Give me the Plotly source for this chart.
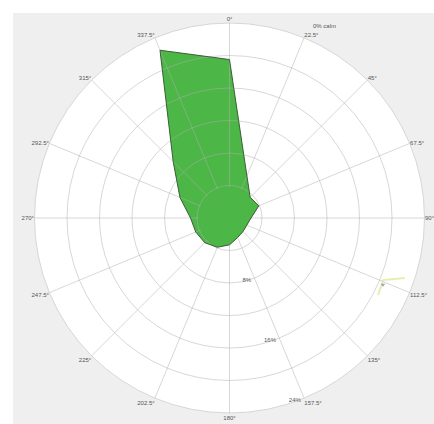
import plotly.graph_objects as go

# wind directions (deg) and frequency (%)
directions = [0, 22.5, 45, 67.5, 90, 112.5, 135, 157.5, 180,
              202.5, 225, 247.5, 270, 292.5, 315, 337.5]
frequency = [19.5, 5.6, 3.6, 3.9, 2.65, 2.3, 2.35, 2.6, 3.3,
             3.9, 4.3, 4.5, 4.8, 6.6, 9.8, 22.35]

dir_labels = ["0°", "22.5°", "45°", "67.5°", "90°", "112.5°", "135°", "157.5°",
              "180°", "202.5°", "225°", "247.5°", "270°", "292.5°", "315°", "337.5°"]

ring_vals = [4, 8, 12, 16, 20, 24]
ring_text = ["", "8%", "", "16%", "", "24%"]

# small artefact near 112.5°
art_r = [22.8, 20.4, 20.6]
art_theta = [108.9, 112.0, 117.4]
art_dot_r = [20.6]
art_dot_theta = [113.5]

calm_text = "0% calm"

GREEN = "rgb(76,182,70)"
closed_r = frequency + frequency[:1]
closed_t = directions + directions[:1]
inner_r = [min(v, 3.85) for v in closed_r]   # central part hides the spokes

fig = go.Figure()
fig.add_trace(go.Scatterpolar(
    r=closed_r, theta=closed_t, mode="lines", fill="toself",
    fillcolor=GREEN, line=dict(width=0, color=GREEN),
    hoverinfo="skip", showlegend=False, subplot="polar",
))
fig.add_trace(go.Scatterpolar(
    r=inner_r, theta=closed_t, mode="lines", fill="toself",
    fillcolor=GREEN, line=dict(width=0, color=GREEN),
    hoverinfo="skip", showlegend=False, subplot="polar2",
))
fig.add_trace(go.Scatterpolar(
    r=closed_r, theta=closed_t, mode="lines",
    line=dict(color="#3b5e36", width=1),
    hoverinfo="skip", showlegend=False, subplot="polar2",
))
fig.add_trace(go.Scatterpolar(
    r=art_r, theta=art_theta, mode="lines",
    line=dict(color="rgba(205,230,120,0.6)", width=2),
    hoverinfo="skip", showlegend=False, subplot="polar2",
))
fig.add_trace(go.Scatterpolar(
    r=art_dot_r, theta=art_dot_theta, mode="markers",
    marker=dict(color="rgba(120,128,170,0.7)", size=4, symbol="triangle-down"),
    hoverinfo="skip", showlegend=False, subplot="polar2",
))

W, H = 434, 424
cx, cy, R = 229.5, 218.0, 195.0
grid = "rgba(175,175,175,0.5)"
dom = dict(x=[(cx - R) / W, (cx + R) / W],
           y=[1 - (cy + R) / H, 1 - (cy - R) / H])

fig.update_layout(
    width=W, height=H,
    margin=dict(l=0, r=0, t=0, b=0),
    paper_bgcolor="white",
    font=dict(family="Liberation Sans, Arial, sans-serif", size=6, color="#555"),
    polar=dict(
        domain=dom,
        bgcolor="white",
        angularaxis=dict(
            rotation=90, direction="clockwise",
            tickmode="array", tickvals=directions, ticktext=["" for _ in dir_labels],
            showline=True, linecolor="#d6d6d6", linewidth=1,
            showgrid=False, ticks="",
        ),
        radialaxis=dict(
            range=[0, 24], showgrid=False, showline=False, ticks="",
            showticklabels=False,
        ),
    ),
    polar2=dict(
        domain=dom,
        bgcolor="rgba(0,0,0,0)",
        angularaxis=dict(
            rotation=90, direction="clockwise",
            tickmode="array", tickvals=directions, ticktext=dir_labels,
            showline=False,
            gridcolor=grid, gridwidth=1,
            ticks="",
            tickfont=dict(size=6, color="#555"),
        ),
        radialaxis=dict(
            range=[0, 24], tickmode="array", tickvals=ring_vals, ticktext=ring_text,
            angle=-67.5, side="clockwise", tickangle=-67.5,
            showline=False, ticks="",
            gridcolor=grid, gridwidth=1,
            tickfont=dict(size=6, color="#555"),
        ),
    ),
    shapes=[dict(type="rect", xref="paper", yref="paper",
                 x0=13 / W, x1=1, y0=0, y1=1 - 13 / H,
                 fillcolor="#efefef", line=dict(width=0), layer="below")],
    annotations=[dict(text=calm_text, xref="paper", yref="paper",
                      x=338 / W, y=1 - 21 / H, showarrow=False,
                      font=dict(size=6, color="#555"))],
)

fig.write_html("out.html")
